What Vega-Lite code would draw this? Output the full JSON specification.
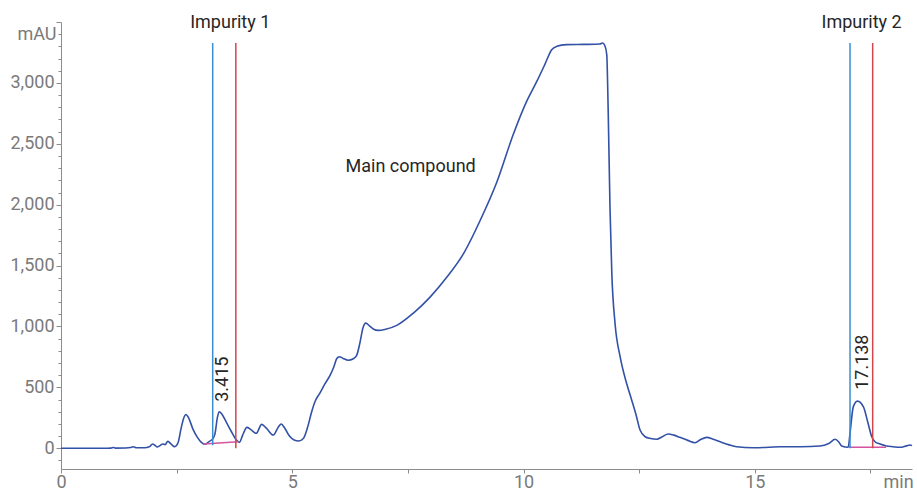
{
  "$schema": "https://vega.github.io/schema/vega-lite/v6.json",
  "autosize": "none",
  "padding": {"left": 61, "top": 22, "right": 5, "bottom": 22},
  "width": 851,
  "height": 447,
  "config": {"view": {"stroke": null}, "axis": {"grid": false}},
  "datasets": {
    "chrom": [
      {"t":0,"v":0},{"t":0.5,"v":0},{"t":1.0,"v":0},{"t":1.08,"v":1},{"t":1.13,"v":6},{"t":1.18,"v":1},{"t":1.4,"v":2},{"t":1.5,"v":6},{"t":1.56,"v":13},{"t":1.63,"v":5},{"t":1.8,"v":4},{"t":1.92,"v":15},{"t":1.98,"v":35},{"t":2.03,"v":25},{"t":2.08,"v":11},{"t":2.14,"v":22},{"t":2.2,"v":35},{"t":2.25,"v":30},{"t":2.31,"v":57},{"t":2.38,"v":35},{"t":2.46,"v":13},{"t":2.53,"v":45},{"t":2.6,"v":170},{"t":2.66,"v":255},{"t":2.7,"v":278},{"t":2.76,"v":250},{"t":2.85,"v":160},{"t":2.95,"v":90},{"t":3.03,"v":50},{"t":3.11,"v":33},{"t":3.2,"v":55},{"t":3.29,"v":82},{"t":3.33,"v":120},{"t":3.38,"v":250},{"t":3.42,"v":300},{"t":3.48,"v":280},{"t":3.58,"v":210},{"t":3.68,"v":140},{"t":3.78,"v":75},{"t":3.86,"v":49},{"t":3.93,"v":110},{"t":4.02,"v":172},{"t":4.1,"v":155},{"t":4.22,"v":123},{"t":4.34,"v":196},{"t":4.44,"v":165},{"t":4.59,"v":109},{"t":4.7,"v":175},{"t":4.76,"v":199},{"t":4.84,"v":165},{"t":4.94,"v":100},{"t":5.04,"v":68},{"t":5.14,"v":60},{"t":5.24,"v":80},{"t":5.33,"v":170},{"t":5.42,"v":300},{"t":5.5,"v":390},{"t":5.6,"v":455},{"t":5.7,"v":525},{"t":5.82,"v":600},{"t":5.9,"v":670},{"t":5.96,"v":735},{"t":6.02,"v":752},{"t":6.1,"v":738},{"t":6.21,"v":723},{"t":6.32,"v":735},{"t":6.39,"v":760},{"t":6.46,"v":860},{"t":6.53,"v":990},{"t":6.59,"v":1028},{"t":6.67,"v":1005},{"t":6.76,"v":978},{"t":6.86,"v":968},{"t":7.0,"v":975},{"t":7.26,"v":1009},{"t":7.62,"v":1110},{"t":7.98,"v":1241},{"t":8.34,"v":1404},{"t":8.7,"v":1596},{"t":9.06,"v":1868},{"t":9.42,"v":2182},{"t":9.78,"v":2578},{"t":10.07,"v":2850},{"t":10.29,"v":3014},{"t":10.46,"v":3150},{"t":10.61,"v":3273},{"t":10.72,"v":3300},{"t":10.93,"v":3314},{"t":11.3,"v":3316},{"t":11.65,"v":3319},{"t":11.71,"v":3327},{"t":11.76,"v":3305},{"t":11.8,"v":3232},{"t":11.83,"v":2795},{"t":11.87,"v":1977},{"t":11.91,"v":1432},{"t":11.98,"v":1023},{"t":12.09,"v":750},{"t":12.23,"v":532},{"t":12.34,"v":395},{"t":12.43,"v":280},{"t":12.52,"v":150},{"t":12.63,"v":95},{"t":12.75,"v":80},{"t":12.88,"v":74},{"t":13.0,"v":95},{"t":13.13,"v":117},{"t":13.25,"v":108},{"t":13.38,"v":90},{"t":13.55,"v":65},{"t":13.71,"v":46},{"t":13.83,"v":72},{"t":13.96,"v":90},{"t":14.1,"v":75},{"t":14.25,"v":54},{"t":14.45,"v":28},{"t":14.61,"v":13},{"t":14.97,"v":5},{"t":15.3,"v":8},{"t":15.55,"v":13},{"t":16.0,"v":13},{"t":16.41,"v":19},{"t":16.6,"v":40},{"t":16.74,"v":74},{"t":16.82,"v":50},{"t":16.88,"v":19},{"t":17.02,"v":8},{"t":17.06,"v":123},{"t":17.13,"v":340},{"t":17.22,"v":387},{"t":17.35,"v":340},{"t":17.45,"v":205},{"t":17.53,"v":95},{"t":17.6,"v":54},{"t":17.71,"v":35},{"t":17.85,"v":19},{"t":17.99,"v":13},{"t":18.14,"v":8},{"t":18.28,"v":20},{"t":18.36,"v":27},{"t":18.4,"v":22}
    ],
    "markers": [
      {"t":3.28,"top":3327,"bottom":25,"kind":"start"},
      {"t":3.78,"top":3327,"bottom":0,"kind":"end"},
      {"t":17.06,"top":3327,"bottom":0,"kind":"start"},
      {"t":17.55,"top":3327,"bottom":0,"kind":"end"}
    ],
    "baselines": [
      {"t":3.08,"v":35,"t2":3.83,"v2":54},
      {"t":17.04,"v":8,"t2":17.84,"v2":8}
    ],
    "labels": [
      {"label":"Impurity 1","t":3.66,"v":3491},
      {"label":"Impurity 2","t":17.31,"v":3491},
      {"label":"Main compound","t":7.56,"v":2310}
    ],
    "peaks": [
      {"label":"3.415","t":3.51,"v":567},
      {"label":"17.138","t":17.35,"v":707}
    ]
  },
  "layer": [
    {
      "data": {"name": "chrom"},
      "mark": {"type": "line", "color": "#3251a7", "strokeWidth": 1.6, "interpolate": "monotone"},
      "encoding": {
        "x": {
          "field": "t", "type": "quantitative", "title": null,
          "scale": {"domain": [0, 18.4], "nice": false, "zero": false},
          "axis": {
            "values": [0, 2.5, 5, 7.5, 10, 12.5, 15, 17.5, 18.1],
            "tickCount": 200,
            "labelExpr": "datum.value == 18.1 ? 'min' : (datum.value % 5 === 0 ? format(datum.value, 'd') : '')",
            "domainColor": "#8c8c8c", "tickColor": "#8c8c8c", "tickSize": 4,
            "tickOpacity": {"condition": {"test": "datum.value == 18.1", "value": 0}, "value": 1},
            "labelColor": "#7a7a7a", "labelFont": "Roboto", "labelFontSize": 18,
            "labelFlush": false, "labelOverlap": false, "labelPadding": 0
          }
        },
        "y": {
          "field": "v", "type": "quantitative", "title": null,
          "scale": {"domain": [-170, 3500], "nice": false, "zero": false},
          "axis": {
            "values": [-100,0,100,200,300,400,500,600,700,800,900,1000,1100,1200,1300,1400,1500,1600,1700,1800,1900,2000,2100,2200,2300,2400,2500,2600,2700,2800,2900,3000,3100,3200,3300,3400,3500],
            "tickCount": 200,
            "labelExpr": "datum.value == 3400 ? 'mAU' : ((datum.value % 500 === 0 && datum.value >= 0 && datum.value <= 3000) ? format(datum.value, ',') : '')",
            "domainColor": "#8c8c8c", "tickColor": "#8c8c8c",
            "tickSize": {"condition": {"test": "datum.value % 500 === 0", "value": 5}, "value": 3},
            "labelColor": "#7a7a7a", "labelFont": "Roboto", "labelFontSize": 18,
            "labelFlush": false, "labelOverlap": false, "labelPadding": 2
          }
        }
      }
    },
    {
      "data": {"name": "baselines"},
      "mark": {"type": "rule", "color": "#d4549f", "strokeWidth": 1.5},
      "encoding": {
        "x": {"field": "t", "type": "quantitative", "title": null},
        "x2": {"field": "t2"},
        "y": {"field": "v", "type": "quantitative", "title": null},
        "y2": {"field": "v2"}
      }
    },
    {
      "data": {"name": "markers"},
      "mark": {"type": "rule", "strokeWidth": 1.5},
      "encoding": {
        "x": {"field": "t", "type": "quantitative", "title": null},
        "y": {"field": "top", "type": "quantitative", "title": null},
        "y2": {"field": "bottom"},
        "color": {"field": "kind", "type": "nominal", "legend": null,
          "scale": {"domain": ["start", "end"], "range": ["#3a8ed3", "#d2474c"]}}
      }
    },
    {
      "data": {"name": "labels"},
      "mark": {"type": "text", "font": "Roboto", "fontSize": 18, "color": "#262626", "align": "center", "baseline": "middle"},
      "encoding": {
        "x": {"field": "t", "type": "quantitative", "title": null},
        "y": {"field": "v", "type": "quantitative", "title": null},
        "text": {"field": "label"}
      }
    },
    {
      "data": {"name": "peaks"},
      "mark": {"type": "text", "font": "Roboto", "fontSize": 18, "color": "#262626", "align": "center", "baseline": "middle", "angle": 270},
      "encoding": {
        "x": {"field": "t", "type": "quantitative", "title": null},
        "y": {"field": "v", "type": "quantitative", "title": null},
        "text": {"field": "label"}
      }
    }
  ]
}
